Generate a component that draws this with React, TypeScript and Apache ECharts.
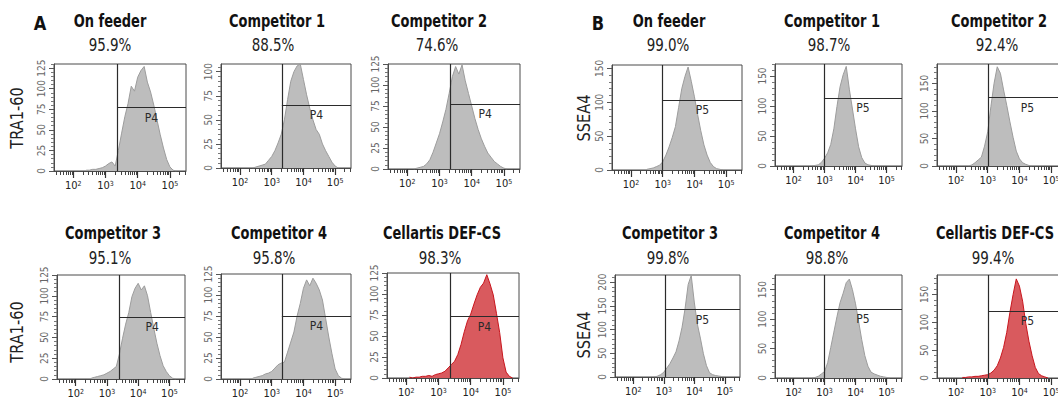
import React, { useEffect, useRef } from "react";
import * as echarts from "echarts";

// ---------- data ----------
const BIN = 0.1; // histogram bin width in log10 units

const titles = ["On feeder", "Competitor 1", "Competitor 2", "Competitor 3", "Competitor 4", "Cellartis DEF-CS"];
const pctA = ["95.9%", "88.5%", "74.6%", "95.1%", "95.8%", "98.3%"];
const pctB = ["99.0%", "98.7%", "92.4%", "99.8%", "98.8%", "99.4%"];

const xTickValues = [2, 3, 4, 5];
const xTickExp = ["2", "3", "4", "5"];

// TRA1-60 (panel A) histograms, start log10 value + counts per bin
const startA = [2.4, 2.4, 2.2, 2.5, 2.4, 2.1];
const histA1 = [1, 1, 2, 2, 3, 4, 6, 9, 11, 6, 25, 46, 66, 82, 103, 97, 114, 122, 127, 108, 96, 80, 62, 44, 28, 14, 5, 1, 0];
const histA2 = [0, 1, 2, 3, 4, 8, 12, 18, 26, 35, 50, 71, 90, 100, 106, 108, 92, 76, 62, 50, 40, 35, 25, 18, 12, 6, 2, 0];
const histA3 = [0, 1, 2, 3, 6, 11, 20, 31, 42, 56, 71, 90, 110, 122, 113, 124, 105, 90, 75, 60, 47, 36, 27, 19, 14, 9, 6, 3, 1, 0];
const histA4 = [1, 2, 3, 4, 5, 7, 9, 12, 15, 30, 49, 66, 80, 99, 109, 115, 107, 112, 100, 80, 61, 43, 28, 16, 9, 4, 1, 0];
const histA5 = [1, 2, 3, 4, 6, 7, 9, 13, 17, 19, 20, 32, 44, 56, 75, 90, 108, 118, 111, 120, 114, 106, 94, 72, 50, 30, 12, 4, 1, 0];
const histA6 = [1, 0, 1, 1, 2, 2, 3, 2, 4, 5, 6, 8, 12, 16, 20, 28, 40, 55, 68, 76, 88, 99, 108, 113, 123, 112, 99, 77, 54, 24, 7, 2, 0];
const gateXA = [3.36, 3.32, 3.33, 3.39, 3.32, 3.36];
const gateYA = [77, 65, 77, 74, 75, 73];
const yMaxA = [130, 108, 125, 125, 125, 125];

// SSEA4 (panel B) histograms
const startB = [2.5, 2.6, 2.4, 2.7, 2.6, 2.2];
const histB1 = [1, 2, 3, 5, 7, 12, 22, 34, 48, 64, 92, 120, 138, 152, 131, 108, 82, 58, 37, 22, 11, 5, 2, 1, 0];
const histB2 = [0, 1, 2, 6, 13, 22, 36, 62, 99, 132, 152, 166, 128, 95, 62, 32, 14, 5, 2, 1, 0];
const histB3 = [0, 2, 6, 11, 16, 36, 62, 108, 150, 180, 168, 138, 110, 80, 52, 27, 13, 6, 3, 1, 0];
const histB4 = [0, 2, 5, 10, 19, 28, 40, 53, 76, 105, 145, 195, 214, 158, 112, 82, 49, 24, 9, 5, 3, 2, 1, 0];
const histB5 = [0, 1, 3, 7, 11, 26, 52, 78, 104, 128, 144, 162, 168, 150, 126, 96, 65, 38, 20, 10, 7, 5, 3, 2, 1, 0];
const histB6 = [1, 1, 2, 2, 3, 3, 4, 5, 6, 9, 14, 22, 36, 55, 82, 118, 150, 178, 165, 138, 98, 66, 40, 19, 8, 4, 2, 0];
const gateXB = [3.0, 2.98, 3.01, 3.04, 2.98, 3.01];
const gateYB = [103, 113, 124, 142, 117, 120];
const yMaxB = [155, 170, 185, 215, 175, 185];

const X_MIN = 1.4;
const X_MAX = 5.5;

// ---------- layout ----------
const grids = [
  { left: 54, top: 64, width: 132, height: 107 },
  { left: 221, top: 64, width: 130, height: 104 },
  { left: 388, top: 64, width: 132, height: 105 },
  { left: 57, top: 275, width: 128, height: 104 },
  { left: 221, top: 274, width: 130, height: 105 },
  { left: 387, top: 273, width: 132, height: 105 },
  { left: 612, top: 65, width: 130, height: 105 },
  { left: 775, top: 64, width: 127, height: 102 },
  { left: 937, top: 64, width: 130, height: 102 },
  { left: 615, top: 275, width: 125, height: 102 },
  { left: 775, top: 275, width: 127, height: 103 },
  { left: 937, top: 275, width: 130, height: 103 },
];
const titleX = [110, 277, 439, 113, 279, 442, 669, 832, 999, 670, 832, 995];
const pctX = [110, 273, 437, 110, 274, 440, 668, 829, 997, 668, 827, 993];
const rowOf = [0, 0, 0, 1, 1, 1, 0, 0, 0, 1, 1, 1];
const titleY = [21, 233];
const pctY = [45, 258];

const FONT = "'Liberation Sans Narrow', 'Arial Narrow', 'DejaVu Sans Condensed', sans-serif";

function buildOption() {
  const histsA = [histA1, histA2, histA3, histA4, histA5, histA6];
  const histsB = [histB1, histB2, histB3, histB4, histB5, histB6];
  const panels: any[] = [];
  for (let i = 0; i < 6; i++) {
    panels.push({ hist: histsA[i], start: startA[i], gx: gateXA[i], gy: gateYA[i], ymax: yMaxA[i], step: 25, minor: 5, gate: "P4", red: i === 5, title: titles[i], pct: pctA[i] });
  }
  for (let i = 0; i < 6; i++) {
    panels.push({ hist: histsB[i], start: startB[i], gx: gateXB[i], gy: gateYB[i], ymax: yMaxB[i], step: 50, minor: 10, gate: "P5", red: i === 5, title: titles[i], pct: pctB[i] });
  }

  const minorX: number[] = [];
  for (let d = 1; d <= 5; d++) {
    for (let k = 2; k <= 9; k++) {
      const v = d + Math.log10(k);
      if (v > X_MIN && v < X_MAX) minorX.push(v);
    }
  }

  const axisColor = "#4a4a4a";
  const grid: any[] = [];
  const xAxis: any[] = [];
  const yAxis: any[] = [];
  const series: any[] = [];
  const graphic: any[] = [];

  panels.forEach((p, i) => {
    const g = grids[i];
    grid.push({
      left: g.left, top: g.top, width: g.width, height: g.height,
      show: true, borderColor: axisColor, borderWidth: 1, backgroundColor: "#fff",
      containLabel: false, outerBoundsMode: "none",
    });
    xAxis.push({
      type: "value", gridIndex: i, min: X_MIN, max: X_MAX, position: "bottom",
      axisLine: { show: true, lineStyle: { color: axisColor, width: 1 } },
      axisTick: { show: true, customValues: xTickValues, length: 7, lineStyle: { color: "#333", width: 1.2 } },
      axisLabel: {
        show: true, customValues: xTickValues, margin: 9,
        formatter: (v: number) => `{b|10}{s|${xTickExp[xTickValues.indexOf(Math.round(v))]}}`,
        rich: {
          b: { fontSize: 11, fontFamily: FONT, color: "#222", verticalAlign: "bottom" },
          s: { fontSize: 7, fontFamily: FONT, color: "#222", verticalAlign: "top" },
        },
      },
      splitLine: { show: false },
    });
    xAxis.push({
      type: "value", gridIndex: i, min: X_MIN, max: X_MAX, position: "bottom",
      axisLine: { show: false },
      axisTick: { show: true, customValues: minorX, length: 4, lineStyle: { color: "#444", width: 1 } },
      axisLabel: { show: false },
      splitLine: { show: false },
    });
    const majorY: number[] = [];
    for (let v = 0; v <= p.ymax; v += p.step) majorY.push(v);
    const minorY: number[] = [];
    for (let v = 0; v <= p.ymax; v += p.minor) if (v % p.step !== 0) minorY.push(v);
    yAxis.push({
      type: "value", gridIndex: i, min: 0, max: p.ymax, position: "left",
      axisLine: { show: true, lineStyle: { color: axisColor, width: 1 } },
      axisTick: { show: true, customValues: majorY, length: 5, lineStyle: { color: "#555", width: 1 } },
      axisLabel: { show: true, customValues: majorY, rotate: 90, fontSize: 10, color: "#666", fontFamily: FONT, margin: 8 },
      splitLine: { show: false },
    });
    yAxis.push({
      type: "value", gridIndex: i, min: 0, max: p.ymax, position: "left",
      axisLine: { show: false },
      axisTick: { show: true, customValues: minorY, length: 3, lineStyle: { color: "#777", width: 1 } },
      axisLabel: { show: false },
      splitLine: { show: false },
    });

    const data = p.hist.map((c: number, j: number) => [p.start + j * BIN, c]);
    series.push({
      type: "line", xAxisIndex: 2 * i, yAxisIndex: 2 * i, data,
      symbol: "none", smooth: false, silent: true,
      lineStyle: { color: p.red ? "#c8161e" : "#9c9c9c", width: 1 },
      areaStyle: { color: p.red ? "#d95a5e" : "#bdbdbd", opacity: 1 },
      markLine: {
        silent: true, symbol: ["none", "none"], animation: false,
        lineStyle: { color: "#2b2b2b", width: 1.2, type: "solid" },
        label: { show: false },
        data: [
          { xAxis: p.gx },
          [
            {
              coord: [p.gx, p.gy],
              label: { show: true, formatter: p.gate, position: "insideMiddleBottom", distance: 4, fontSize: 12, color: "#2a2a2a", fontFamily: FONT },
            },
            { coord: [X_MAX, p.gy] },
          ],
        ],
      },
    });

    const row = rowOf[i];
    graphic.push({
      type: "text", x: titleX[i], y: titleY[row], scaleX: 0.85,
      style: { text: p.title, fontSize: 17, fontWeight: "bold", fontFamily: FONT, fill: "#111", textAlign: "center", textVerticalAlign: "middle" },
    });
    graphic.push({
      type: "text", x: pctX[i], y: pctY[row], scaleX: 0.88,
      style: { text: p.pct, fontSize: 17, fontFamily: FONT, fill: "#222", textAlign: "center", textVerticalAlign: "middle" },
    });
  });

  const letterStyle = { fontSize: 20, fontWeight: "bold", fontFamily: FONT, fill: "#111", textAlign: "center", textVerticalAlign: "middle" };
  graphic.push({ type: "text", x: 40, y: 23, scaleX: 0.9, style: { ...letterStyle, text: "A" } });
  graphic.push({ type: "text", x: 598, y: 23, scaleX: 0.9, style: { ...letterStyle, text: "B" } });
  const yTitleStyle = { fontSize: 18, fontFamily: FONT, fill: "#222", textAlign: "center", textVerticalAlign: "middle" };
  graphic.push({ type: "text", x: 17, y: 118, rotation: Math.PI / 2, scaleX: 0.9, style: { ...yTitleStyle, text: "TRA1-60" } });
  graphic.push({ type: "text", x: 17, y: 332, rotation: Math.PI / 2, scaleX: 0.9, style: { ...yTitleStyle, text: "TRA1-60" } });
  graphic.push({ type: "text", x: 584, y: 118, rotation: Math.PI / 2, scaleX: 0.9, style: { ...yTitleStyle, text: "SSEA4" } });
  graphic.push({ type: "text", x: 584, y: 335, rotation: Math.PI / 2, scaleX: 0.9, style: { ...yTitleStyle, text: "SSEA4" } });

  return {
    animation: false,
    backgroundColor: "#fff",
    grid, xAxis, yAxis, series, graphic,
  };
}

export default function App() {
  const ref = useRef<HTMLDivElement>(null);
  useEffect(() => {
    const chart = echarts.init(ref.current!, null, { renderer: "svg" });
    chart.setOption(buildOption() as any);
    return () => chart.dispose();
  }, []);
  return (
    <div
      ref={ref}
      style={{ position: "absolute", left: 0, top: 0, width: 1058, height: 405, background: "#fff" }}
    />
  );
}
